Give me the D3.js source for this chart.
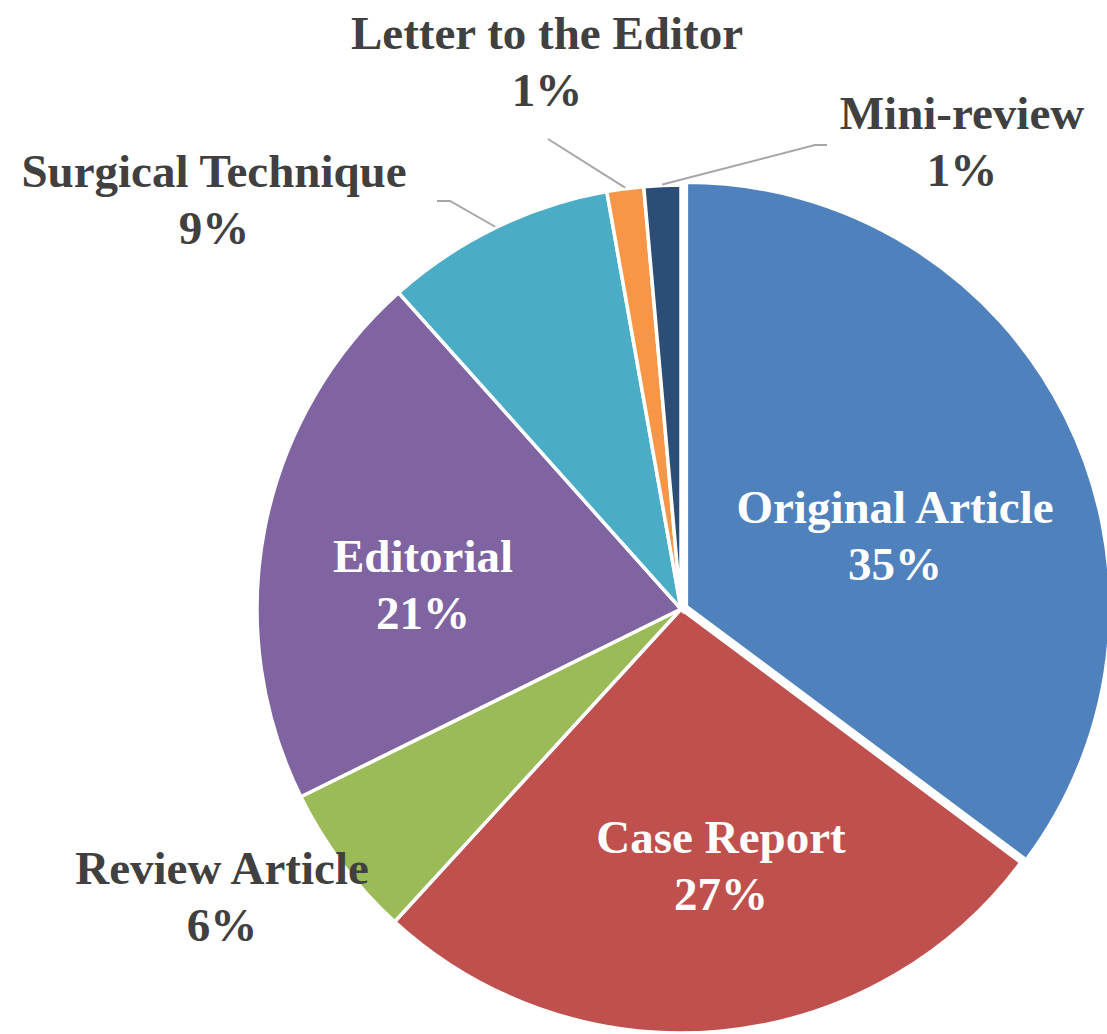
<!DOCTYPE html>
<html>
<head>
<meta charset="utf-8">
<script src="https://cdn.jsdelivr.net/npm/d3@7/dist/d3.min.js"></script>
<style>
  body { margin: 0; background: #fff; }
  text { font-family: "Liberation Serif", "Times New Roman", serif; font-weight: bold; font-size: 47px; }
</style>
</head>
<body>
<svg id="chart" width="1107" height="1034"></svg>
<script>
// Data: share of each article type (percent), clockwise from 12 o'clock
const categories = ["Original Article", "Case Report", "Review Article", "Editorial",
                    "Surgical Technique", "Letter to the Editor", "Mini-review"];
const shares = [35.2, 26.6, 5.9, 20.7, 8.8, 1.4, 1.4];
const colors = ["#4F81BD", "#C0504D", "#9BBB59", "#8064A2", "#4BACC6", "#F79646", "#2C4D75"];
const insideLabel = [true, true, false, true, false, false, false];

// Layout (label anchors: centre x, baseline of first line)
const labelAnchors = [[895, 523], [721, 853], [222, 884], [423, 572], [214, 187], [547, 49], [962, 129]];
// label-side points of the leader lines (null = no leader)
const leaderStarts = [null, null, null, null, [[437, 201], [450, 201]], [[548, 139]], [[827, 145], [815, 145]]];

const svg = d3.select("#chart");
const cx = 681, cy = 609, radius = 424;
const explode = 6;

const pie = d3.pie().sort(null).value(d => d.value);
const arc = d3.arc().innerRadius(0).outerRadius(radius);
const edgeArc = d3.arc().innerRadius(radius + 1).outerRadius(radius + 1);

const data = categories.map((c, i) => ({name: c, value: shares[i], color: colors[i], inside: insideLabel[i]}));
const arcs = pie(data);

const g = svg.append("g").attr("transform", `translate(${cx},${cy})`);

// Slices (first slice pulled out a little)
g.selectAll("path.slice").data(arcs).enter()
  .append("path")
    .attr("class", "slice")
    .attr("d", arc)
    .attr("fill", d => d.data.color)
    .attr("stroke", "#fff")
    .attr("stroke-width", 3.5)
    .attr("transform", (d, i) => {
      if (i !== 0) return null;
      const a = (d.startAngle + d.endAngle) / 2;
      return `translate(${explode * Math.sin(a)},${-explode * Math.cos(a)})`;
    });

// Leader lines
arcs.forEach((d, i) => {
  if (!leaderStarts[i]) return;
  const [ex, ey] = edgeArc.centroid(d);
  const pts = leaderStarts[i].map(p => [p[0], p[1]]).concat([[cx + ex, cy + ey]]);
  svg.append("path")
    .attr("d", d3.line()(pts))
    .attr("fill", "none")
    .attr("stroke", "#A6A6A6")
    .attr("stroke-width", 2);
});

// Labels
arcs.forEach((d, i) => {
  const [x, y] = labelAnchors[i];
  const t = svg.append("text")
    .attr("text-anchor", "middle")
    .attr("fill", d.data.inside ? "#fff" : "#404040");
  t.append("tspan").attr("x", x).attr("y", y).text(d.data.name);
  t.append("tspan").attr("x", x).attr("y", y + 57).text(Math.round(d.data.value) + "%");
});
</script>
</body>
</html>
